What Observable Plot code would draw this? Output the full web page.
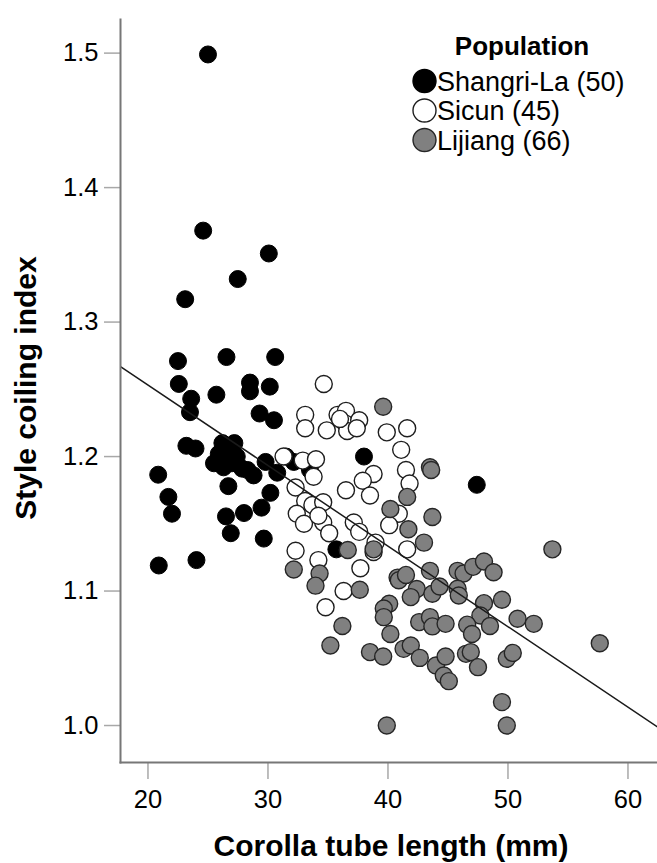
<!DOCTYPE html>
<html>
<head>
<meta charset="utf-8">
<script src="https://cdn.jsdelivr.net/npm/d3@7"></script>
<script src="https://cdn.jsdelivr.net/npm/@observablehq/plot@0.6"></script>
<style>
  html, body { margin: 0; padding: 0; background: #fff; }
  #chart { position: relative; width: 657px; height: 863px; }
</style>
</head>
<body>
<div id="chart"></div>
<script>
// ---- Data ----
const seriesNames = ["Shangri-La (50)", "Sicun (45)", "Lijiang (66)"];

const shangriLaX = [25.0, 24.6, 30.07, 27.48, 23.1, 22.5, 26.54, 30.6, 22.57, 28.5, 28.5, 30.15, 25.7, 23.6, 23.5, 29.3, 30.5, 23.2, 23.96, 25.9, 26.7, 27.4, 26.3, 27.85, 28.8, 29.8, 30.77, 20.85, 26.7, 21.7, 22.0, 30.2, 26.5, 28.0, 29.46, 26.9, 29.65, 20.9, 24.04, 38.0, 35.7, 47.4, 32.15, 33.5, 25.5, 27.0, 28.3, 27.2, 31.5, 26.2];
const shangriLaY = [1.499, 1.368, 1.351, 1.332, 1.317, 1.271, 1.274, 1.274, 1.254, 1.255, 1.2485, 1.252, 1.246, 1.243, 1.233, 1.232, 1.227, 1.208, 1.206, 1.202, 1.205, 1.2, 1.192, 1.191, 1.186, 1.196, 1.188, 1.1865, 1.178, 1.17, 1.1575, 1.173, 1.1555, 1.158, 1.162, 1.143, 1.139, 1.119, 1.123, 1.2, 1.131, 1.179, 1.196, 1.19, 1.195, 1.195, 1.19, 1.21, 1.2, 1.21];

const sicunX = [34.65, 33.1, 33.1, 34.9, 35.8, 36.5, 36.45, 37.6, 36.6, 37.4, 39.9, 41.6, 41.1, 41.5, 41.8, 31.3, 32.9, 34.0, 33.8, 32.3, 38.8, 37.9, 36.5, 38.5, 40.9, 40.1, 41.6, 33.1, 33.7, 34.6, 32.4, 33.0, 34.6, 35.1, 37.15, 37.6, 38.96, 38.8, 32.3, 34.2, 37.7, 36.3, 34.8, 34.2, 36.0];
const sicunY = [1.254, 1.231, 1.221, 1.2195, 1.231, 1.234, 1.2245, 1.227, 1.219, 1.221, 1.218, 1.221, 1.205, 1.19, 1.18, 1.2, 1.197, 1.198, 1.185, 1.177, 1.187, 1.182, 1.175, 1.171, 1.1575, 1.149, 1.131, 1.167, 1.164, 1.166, 1.1575, 1.15, 1.151, 1.143, 1.151, 1.144, 1.136, 1.129, 1.13, 1.123, 1.117, 1.1, 1.088, 1.156, 1.228];

const lijiangX = [39.6, 43.5, 43.6, 41.6, 40.2, 43.7, 41.7, 43.0, 36.65, 38.8, 32.15, 34.3, 33.96, 37.65, 43.5, 45.8, 46.3, 40.8, 40.9, 47.1, 48.0, 48.8, 42.4, 43.7, 44.3, 41.9, 40.1, 39.65, 39.65, 40.2, 45.8, 45.9, 48.0, 49.5, 47.7, 48.5, 50.8, 52.15, 42.6, 43.5, 43.7, 44.8, 46.6, 47.0, 57.65, 38.5, 39.6, 41.3, 41.9, 42.65, 44.0, 44.8, 44.65, 45.07, 46.5, 46.9, 47.5, 49.9, 50.4, 49.5, 39.9, 49.9, 53.7, 36.2, 35.2, 41.5];
const lijiangY = [1.237, 1.192, 1.19, 1.17, 1.161, 1.155, 1.146, 1.136, 1.1305, 1.131, 1.116, 1.113, 1.104, 1.101, 1.115, 1.115, 1.113, 1.11, 1.108, 1.118, 1.122, 1.114, 1.1015, 1.098, 1.1034, 1.0955, 1.0905, 1.087, 1.0806, 1.068, 1.1017, 1.0967, 1.091, 1.0935, 1.0818, 1.074, 1.0794, 1.0756, 1.0769, 1.0806, 1.0737, 1.0756, 1.075, 1.068, 1.0612, 1.0546, 1.0513, 1.057, 1.0595, 1.0503, 1.0446, 1.0513, 1.0372, 1.033, 1.0533, 1.0546, 1.0434, 1.0496, 1.054, 1.0174, 1.0, 1.0, 1.131, 1.074, 1.0595, 1.112];

// Fitted regression line (pooled)
const fitIntercept = 1.373;
const fitSlope = -0.00599;

const xTicks = [20, 30, 40, 50, 60];
const yTicks = [1.0, 1.1, 1.2, 1.3, 1.4, 1.5];
const xDomain = [17.71, 62.46];
const yDomain = [0.9725, 1.525];
const xTitle = "Corolla tube length (mm)";
const yTitle = "Style coiling index";
const legendTitle = "Population";

// ---- Build tables ----
const toRows = (xs, ys, pop) => xs.map((x, i) => ({x, y: ys[i], pop}));
const shangriLa = toRows(shangriLaX, shangriLaY, seriesNames[0]);
const sicun = toRows(sicunX, sicunY, seriesNames[1]);
const lijiang = toRows(lijiangX, lijiangY, seriesNames[2]);
const fitLine = xDomain.map(x => ({x, y: fitIntercept + fitSlope * x}));

const FONT = "'Liberation Sans', Arial, Helvetica, sans-serif";
const R = 8.5;
const styles = {
  [seriesNames[0]]: {fill: "#000", stroke: "#000"},
  [seriesNames[1]]: {fill: "#fff", stroke: "#1e1e1e"},
  [seriesNames[2]]: {fill: "#808080", stroke: "#262626"}
};

const plot = Plot.plot({
  width: 657,
  height: 863,
  marginLeft: 120,
  marginRight: 0,
  marginTop: 19,
  marginBottom: 101,
  style: {fontFamily: FONT, background: "#fff", overflow: "visible"},
  x: {domain: xDomain},
  y: {domain: yDomain},
  marks: [
    Plot.axisX({ticks: xTicks, tickSize: 17, tickPadding: 10, stroke: "#a8a8a8", strokeWidth: 1.5, fill: "#000", fontSize: 25.5, label: null}),
    Plot.axisY({ticks: yTicks, tickFormat: d3.format(".1f"), tickSize: 16, tickPadding: 6, stroke: "#a8a8a8", strokeWidth: 1.5, fill: "#000", fontSize: 25.5, label: null}),
    Plot.dot(shangriLa, {x: "x", y: "y", r: R, fill: styles[seriesNames[0]].fill, stroke: styles[seriesNames[0]].stroke, strokeWidth: 1}),
    Plot.dot(sicun, {x: "x", y: "y", r: R, fill: styles[seriesNames[1]].fill, stroke: styles[seriesNames[1]].stroke, strokeWidth: 1.4}),
    Plot.dot(lijiang, {x: "x", y: "y", r: R, fill: styles[seriesNames[2]].fill, stroke: styles[seriesNames[2]].stroke, strokeWidth: 1.4}),
    Plot.line(fitLine, {x: "x", y: "y", stroke: "#1a1a1a", strokeWidth: 1.5, clip: true}),
    Plot.frame({anchor: "left", stroke: "#777", strokeWidth: 2}),
    Plot.frame({anchor: "bottom", stroke: "#777", strokeWidth: 2})
  ]
});

document.getElementById("chart").appendChild(plot);

// ---- Titles and legend (layout text) ----
const svg = d3.select(plot);
svg.append("text")
  .attr("x", 391).attr("y", 856)
  .attr("text-anchor", "middle")
  .attr("font-family", FONT).attr("font-weight", "bold").attr("font-size", 30)
  .attr("fill", "#000")
  .text(xTitle);
svg.append("text")
  .attr("transform", "translate(36,388) rotate(-90)")
  .attr("text-anchor", "middle")
  .attr("font-family", FONT).attr("font-weight", "bold").attr("font-size", 30)
  .attr("fill", "#000")
  .text(yTitle);

const lg = svg.append("g").attr("font-family", FONT).attr("text-anchor", "start");
lg.append("text")
  .attr("x", 522).attr("y", 55)
  .attr("text-anchor", "middle")
  .attr("font-weight", "bold").attr("font-size", 26)
  .text(legendTitle);
seriesNames.forEach((name, i) => {
  const cy = 81 + i * 29.5;
  lg.append("circle")
    .attr("cx", 424.5).attr("cy", cy).attr("r", 11.5)
    .attr("fill", styles[name].fill).attr("stroke", styles[name].stroke).attr("stroke-width", 1.4);
  lg.append("text")
    .attr("x", 437).attr("y", cy + 9.5)
    .attr("text-anchor", "start")
    .attr("font-size", 27)
    .text(name);
});
</script>
</body>
</html>
